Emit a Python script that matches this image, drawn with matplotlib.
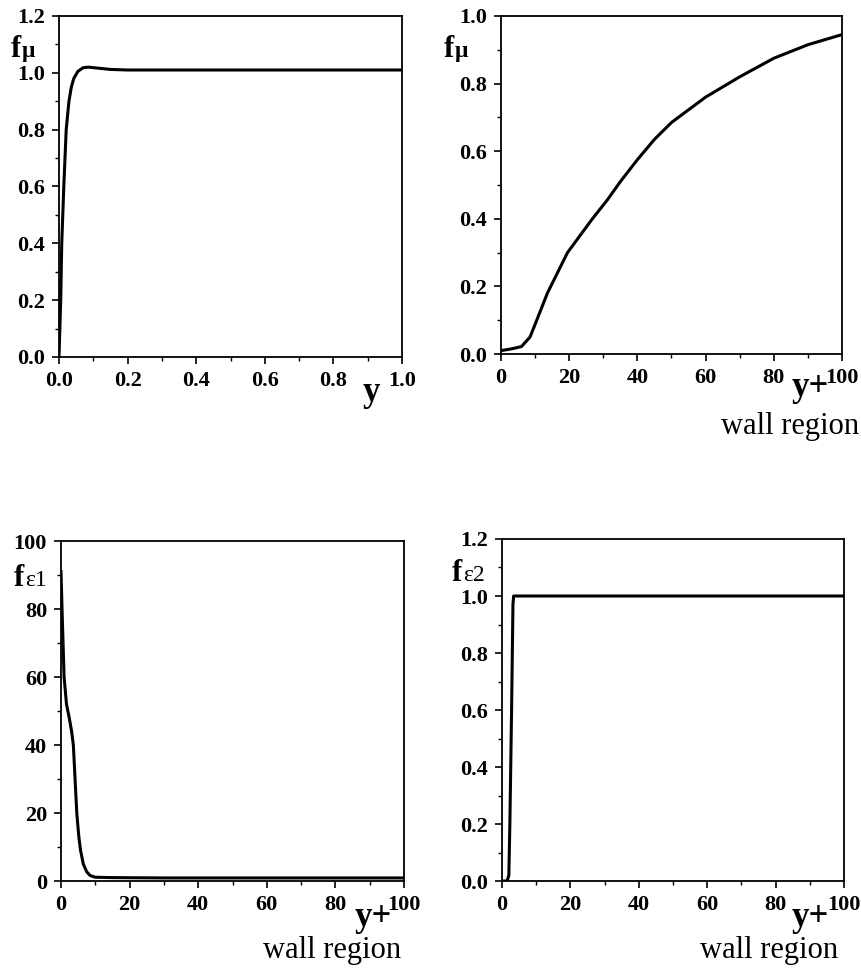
import matplotlib
matplotlib.use("Agg")
import matplotlib.pyplot as plt
from matplotlib.ticker import MultipleLocator

plt.rcParams['font.family'] = ['Liberation Serif', 'DejaVu Serif']

W, H = 862, 971

# f_mu over the whole channel, y from 0 to 1
y_full = [0, 0.005, 0.008, 0.014, 0.021, 0.029, 0.036, 0.043, 0.055, 0.07,
          0.085, 0.11, 0.15, 0.2, 0.4, 1.0]
fmu_full = [0, 0.2, 0.4, 0.6, 0.8, 0.9, 0.95, 0.98, 1.005, 1.018,
            1.02, 1.017, 1.012, 1.01, 1.01, 1.01]

# f_mu in the wall region
yp_mu = [0, 3, 6, 8.5, 9.7, 13.6, 19.5, 26.8, 31.2, 35, 40, 45, 50, 60, 70, 80, 90, 100]
fmu_wall = [0.01, 0.015, 0.022, 0.05, 0.08, 0.18, 0.3, 0.4, 0.456, 0.51, 0.575,
            0.635, 0.685, 0.76, 0.82, 0.875, 0.915, 0.945]

# f_eps1 in the wall region
yp_e1 = [0, 0.3, 0.9, 1.6, 2.4, 3.1, 3.6, 4.1, 4.6, 5.2, 5.7, 6.5, 7.5, 8.5,
         10, 15, 30, 60, 100]
fe1 = [91, 80, 60, 52, 48, 44, 40, 30, 20, 13, 9, 5, 2.7, 1.6, 1.1, 1.0, 0.9, 0.9, 0.9]

# f_eps2 in the wall region
yp_e2 = [0, 1.5, 2.0, 2.3, 2.8, 3.2, 3.4, 100]
fe2 = [0, 0, 0.02, 0.2, 0.6, 0.97, 1.0, 1.0]


def rect(left, top, right, bottom):
    return [left / W, 1 - bottom / H, (right - left) / W, (bottom - top) / H]


def ftext(fig, px, py, s, **kw):
    fig.text(px / W, 1 - py / H, s, **kw)


def style_axes(ax, xmax, xmaj, ymax, ymaj, xfmt, yfmt):
    ax.set_xlim(0, xmax)
    ax.set_ylim(0, ymax)
    ax.xaxis.set_major_locator(MultipleLocator(xmaj))
    ax.xaxis.set_minor_locator(MultipleLocator(xmaj / 2))
    ax.yaxis.set_major_locator(MultipleLocator(ymaj))
    ax.yaxis.set_minor_locator(MultipleLocator(ymaj / 2))
    ax.xaxis.set_major_formatter(xfmt)
    ax.yaxis.set_major_formatter(yfmt)
    ax.tick_params(which='major', direction='out', length=5, width=1.2,
                   labelsize=16, pad=5)
    ax.tick_params(which='minor', direction='out', length=3, width=1.0)
    for lab in ax.get_xticklabels() + ax.get_yticklabels():
        lab.set_fontweight('bold')
    for sp in ax.spines.values():
        sp.set_linewidth(1.3)


def f_label(fig, px, py, sub, bold_sub):
    # "f" with a smaller index letter on the same baseline
    ftext(fig, px, py, 'f', fontsize=22, fontweight='bold', va='baseline')
    ftext(fig, px + 11, py, sub, fontsize=17,
          fontweight='bold' if bold_sub else 'normal', va='baseline')


fig = plt.figure(figsize=(W / 100, H / 100), dpi=100)

ax1 = fig.add_axes(rect(59, 16, 402, 357))
ax1.plot(y_full, fmu_full, color='black', lw=2.2)
style_axes(ax1, 1.0, 0.2, 1.2, 0.2, '{x:.1f}', '{x:.1f}')

ax2 = fig.add_axes(rect(501, 16, 842, 354))
ax2.plot(yp_mu, fmu_wall, color='black', lw=2.2)
style_axes(ax2, 100, 20, 1.0, 0.2, '{x:.0f}', '{x:.1f}')

ax3 = fig.add_axes(rect(61, 541, 404, 881))
ax3.plot(yp_e1, fe1, color='black', lw=2.2)
style_axes(ax3, 100, 20, 100, 20, '{x:.0f}', '{x:.0f}')

ax4 = fig.add_axes(rect(502, 539, 844, 881))
ax4.plot(yp_e2, fe2, color='black', lw=2.2)
style_axes(ax4, 100, 20, 1.2, 0.2, '{x:.0f}', '{x:.1f}')

# axis symbols
f_label(fig, 11, 57, 'μ', True)
f_label(fig, 444, 57, 'μ', True)
f_label(fig, 14, 586, 'ε1', False)
f_label(fig, 452, 581, 'ε2', False)

y_kw = dict(fontsize=25, fontweight='bold', ha='center', va='baseline')
ftext(fig, 371, 401, 'y', **y_kw)
ftext(fig, 810, 396, 'y+', **y_kw)
ftext(fig, 373, 926, 'y+', **y_kw)
ftext(fig, 810, 926, 'y+', **y_kw)

w_kw = dict(fontsize=22, ha='center', va='baseline')
ftext(fig, 790, 434, 'wall region', **w_kw)
ftext(fig, 332, 958, 'wall region', **w_kw)
ftext(fig, 769, 958, 'wall region', **w_kw)

fig.savefig('out.png', dpi=100)
